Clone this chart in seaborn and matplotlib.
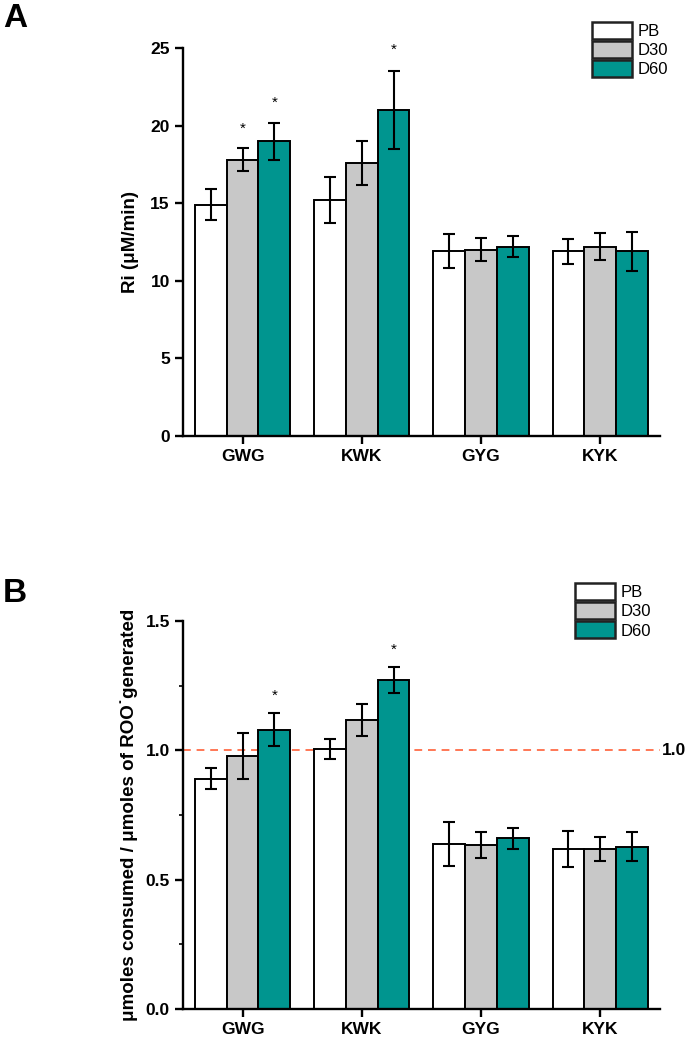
import seaborn as sns
import pandas as pd
import matplotlib.pyplot as plt
from matplotlib.ticker import MultipleLocator

peptides = ['GWG', 'KWK', 'GYG', 'KYK']
groups = ['PB', 'D30', 'D60']
colors = ['#FFFFFF', '#C8C8C8', '#00958F']

# panel A: Ri (uM/min)
ri_mean = {'PB': [14.9, 15.2, 11.9, 11.9],
           'D30': [17.8, 17.6, 12.0, 12.2],
           'D60': [19.0, 21.0, 12.2, 11.9]}
ri_err = {'PB': [1.0, 1.5, 1.1, 0.8],
          'D30': [0.73, 1.43, 0.74, 0.88],
          'D60': [1.2, 2.5, 0.67, 1.26]}
ri_star = [('GWG', 'D30', 19.8), ('GWG', 'D60', 21.5), ('KWK', 'D60', 24.9)]

# panel B: stoichiometry
st_mean = {'PB': [0.89, 1.005, 0.638, 0.618],
           'D30': [0.979, 1.119, 0.635, 0.618],
           'D60': [1.08, 1.271, 0.66, 0.627]}
st_err = {'PB': [0.04, 0.04, 0.085, 0.07],
          'D30': [0.09, 0.062, 0.05, 0.046],
          'D60': [0.063, 0.05, 0.04, 0.056]}
st_star = [('GWG', 'D60', 1.213), ('KWK', 'D60', 1.39)]


def to_long(mean, err):
    rows = []
    for g in groups:
        for p, m, e in zip(peptides, mean[g], err[g]):
            rows.append({'peptide': p, 'group': g, 'value': m, 'err': e})
    return pd.DataFrame(rows)


sns.set_style('ticks')
plt.rcParams['font.family'] = ['Liberation Sans', 'DejaVu Sans']
plt.rcParams['text.color'] = 'black'
plt.rcParams['axes.labelcolor'] = 'black'
plt.rcParams['axes.edgecolor'] = 'black'
plt.rcParams['xtick.color'] = 'black'
plt.rcParams['ytick.color'] = 'black'

fig = plt.figure(figsize=(6.88, 10.44), dpi=100)
axA = fig.add_axes([0.266, 0.5824, 0.693, 0.3716])
axB = fig.add_axes([0.266, 0.0335, 0.693, 0.3716])


def draw(ax, mean, err, stars, ymax, major, minor):
    df = to_long(mean, err)
    sns.barplot(data=df, x='peptide', y='value', hue='group', order=peptides,
                hue_order=groups, palette=colors, edgecolor='black',
                linewidth=1.4, errorbar=None, width=0.8, saturation=1,
                legend=True, ax=ax)
    bars = list(ax.containers[:3])
    for g, cont in zip(groups, bars):
        xs = [b.get_x() + b.get_width() / 2 for b in cont]
        ax.errorbar(xs, mean[g], yerr=err[g], fmt='none', ecolor='black',
                    elinewidth=1.5, capsize=4, capthick=1.5, zorder=5)
    for p, g, y in stars:
        b = bars[groups.index(g)][peptides.index(p)]
        ax.text(b.get_x() + b.get_width() / 2, y, '*', ha='center',
                va='center', fontsize=11)
    ax.set_xlim(-0.5, 3.5)
    ax.set_ylim(0, ymax)
    ax.yaxis.set_major_locator(MultipleLocator(major))
    if minor:
        ax.yaxis.set_minor_locator(MultipleLocator(minor))
    ax.set_xlabel('')
    for s in ['top', 'right']:
        ax.spines[s].set_visible(False)
    for s in ['left', 'bottom']:
        ax.spines[s].set_linewidth(1.7)
    ax.tick_params(axis='both', which='major', length=6, width=1.7,
                   labelsize=12.5, direction='out')
    ax.tick_params(axis='y', which='minor', length=3, width=1.2)
    for t in ax.get_xticklabels() + ax.get_yticklabels():
        t.set_fontweight('bold')
    ax.get_legend().remove()
    return bars


barsA = draw(axA, ri_mean, ri_err, ri_star, 25, 5, None)
axA.yaxis.set_major_formatter(plt.FuncFormatter(lambda v, _: f'{v:.0f}'))
axA.set_ylabel('Ri (μM/min)', fontsize=13.5, fontweight='bold', labelpad=8)

barsB = draw(axB, st_mean, st_err, st_star, 1.5, 0.5, 0.25)
axB.yaxis.set_major_formatter(plt.FuncFormatter(lambda v, _: f'{v:.1f}'))
axB.axhline(1.0, color='#FF7755', linestyle=(0, (4, 3)), linewidth=1.4,
            zorder=0.5)
axB.text(1.005, 1.0, '1.0', transform=axB.get_yaxis_transform(),
         ha='left', va='center', fontsize=12.5, fontweight='bold')
axB.set_ylabel('μmoles consumed / μmoles of ROO\u02d9generated',
               fontsize=13.5, fontweight='bold', labelpad=5)

for bars, xy in [(barsA, (592 / 688, 1 - 22 / 1044)),
                 (barsB, (575 / 688, 1 - 583 / 1044))]:
    leg = fig.legend([c.patches[0] for c in bars], groups,
                     loc='upper left', bbox_to_anchor=xy, frameon=False,
                     fontsize=12, handlelength=2.4, handleheight=1.2,
                     labelspacing=0.12, handletextpad=0.35, borderpad=0,
                     borderaxespad=0)
    for h in leg.legend_handles:
        h.set_linewidth(1.8)
        h.set_edgecolor('#222222')

fig.text(0.004, 1 - 27 / 1044, 'A', fontsize=24, fontweight='bold',
         va='baseline')
fig.text(0.004, 1 - 602 / 1044, 'B', fontsize=24, fontweight='bold',
         va='baseline')

fig.savefig('out.png', dpi=100)
